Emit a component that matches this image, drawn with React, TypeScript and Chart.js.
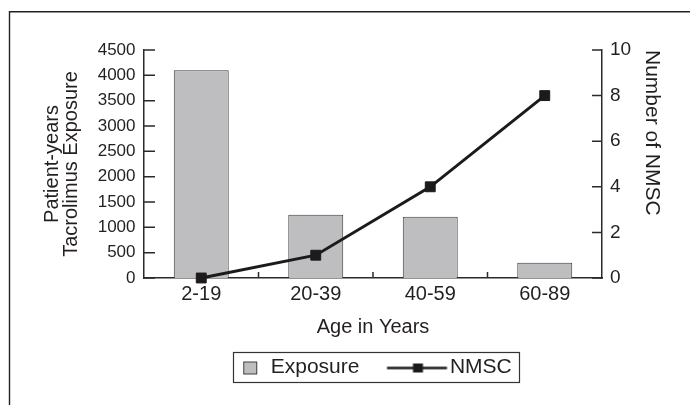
import React, { useEffect, useRef } from 'react';
import { Chart, registerables } from 'chart.js';

Chart.register(...registerables);

// ---- data ----
const categories = ['2-19', '20-39', '40-59', '60-89'];
const exposureValues = [4100, 1250, 1210, 300];
const nmscValues = [0, 1, 4, 8];
const leftTickValues = [0, 500, 1000, 1500, 2000, 2500, 3000, 3500, 4000, 4500];
const rightTickValues = [0, 2, 4, 6, 8, 10];
const seriesNames = ['Exposure', 'NMSC'];
const xTitle = 'Age in Years';
const leftTitle = ['Patient-years', 'Tacrolimus Exposure'];
const rightTitle = 'Number of NMSC';

// ---- style ----
const FONT = "'Liberation Sans', Arial, Helvetica, sans-serif";
const INK = '#231f20';
const AXIS = '#2a2a2a';
const BAR_FILL = '#bebec1';
const BAR_BORDER = '#3c3c3c';
const LINE = '#1c1a1b';
const LEGEND_FONT = 21;
const PSW = 62; // legend point style width

function makeBoxImage(): HTMLCanvasElement {
  const c = document.createElement('canvas');
  c.width = 60;
  c.height = 20;
  const g = c.getContext('2d')!;
  g.fillStyle = BAR_FILL;
  g.fillRect(44.5, 4.5, 13, 12);
  g.strokeStyle = BAR_BORDER;
  g.lineWidth = 1;
  g.strokeRect(44.5, 4.5, 13, 12);
  return c;
}

function makeLineImage(): HTMLCanvasElement {
  const c = document.createElement('canvas');
  c.width = 90;
  c.height = 20;
  const g = c.getContext('2d')!;
  g.strokeStyle = LINE;
  g.lineWidth = 2.5;
  g.beginPath();
  g.moveTo(23.5, 10.5);
  g.lineTo(83.5, 10.5);
  g.stroke();
  g.fillStyle = LINE;
  g.fillRect(49.5, 6, 10, 9);
  return c;
}

const decorPlugin = {
  id: 'decor',
  beforeDraw(chart: any) {
    const { ctx, width, height } = chart;
    ctx.save();
    ctx.fillStyle = '#ffffff';
    ctx.fillRect(0, 0, width, height);
    ctx.strokeStyle = '#222';
    ctx.lineWidth = 1.4;
    ctx.beginPath();
    ctx.moveTo(9.5, height + 2);
    ctx.lineTo(9.5, 11.7);
    ctx.lineTo(width + 2, 11.7);
    ctx.stroke();
    ctx.restore();
  },
  afterDraw(chart: any) {
    const { ctx } = chart;
    const x = chart.scales.x;
    const y = chart.scales.y;
    const y1 = chart.scales.y1;
    ctx.save();
    ctx.strokeStyle = AXIS;
    ctx.lineWidth = 1.5;
    ctx.beginPath();
    y.ticks.forEach((t: any) => {
      const py = y.getPixelForValue(t.value);
      ctx.moveTo(y.right, py);
      ctx.lineTo(y.right + 11, py);
    });
    y1.ticks.forEach((t: any) => {
      const py = y1.getPixelForValue(t.value);
      ctx.moveTo(y1.left - 10, py);
      ctx.lineTo(y1.left, py);
    });
    for (let i = 0; i < categories.length - 1; i++) {
      const px = (x.getPixelForTick(i) + x.getPixelForTick(i + 1)) / 2;
      ctx.moveTo(px, x.top);
      ctx.lineTo(px, x.top - 6);
    }
    ctx.stroke();

    // legend frame
    const hb = chart.legend && chart.legend.legendHitBoxes;
    if (hb && hb.length === 2) {
      const sqLeft = hb[0].left + PSW / 2 - 30 + 44.5;
      const left = sqLeft - 10.5;
      const right = hb[1].left + hb[1].width + 7;
      const top = hb[0].top + LEGEND_FONT / 2 - 15.5;
      ctx.strokeStyle = '#333';
      ctx.lineWidth = 1.2;
      ctx.strokeRect(Math.round(left) + 0.5, Math.round(top) + 0.5, Math.round(right - left), 30);
    }
    ctx.restore();
  },
};

export default function App() {
  const ref = useRef<HTMLCanvasElement | null>(null);

  useEffect(() => {
    if (!ref.current) return;
    const boxImg = makeBoxImage();
    const lineImg = makeLineImage();

    const chart = new Chart(ref.current, {
      type: 'bar',
      data: {
        labels: categories,
        datasets: [
          {
            type: 'bar',
            label: seriesNames[0],
            data: exposureValues,
            yAxisID: 'y',
            backgroundColor: BAR_FILL,
            borderColor: BAR_BORDER,
            borderWidth: 1,
            categoryPercentage: 1,
            barPercentage: 0.48,
            order: 1,
          } as any,
          {
            type: 'line',
            label: seriesNames[1],
            data: nmscValues,
            yAxisID: 'y1',
            borderColor: LINE,
            borderWidth: 3,
            pointStyle: 'rect',
            pointRadius: 7,
            pointBackgroundColor: LINE,
            pointBorderColor: LINE,
            pointBorderWidth: 1,
            tension: 0,
            clip: false,
            order: 0,
          } as any,
        ],
      },
      options: {
        responsive: false,
        animation: false,
        devicePixelRatio: 1,
        events: [],
        layout: { padding: { left: 20, right: 0, top: 50, bottom: 17 } },
        plugins: {
          tooltip: { enabled: false },
          legend: {
            display: true,
            position: 'bottom',
            labels: {
              usePointStyle: true,
              pointStyleWidth: PSW,
              padding: 18,
              color: INK,
              font: { family: FONT, size: LEGEND_FONT },
              generateLabels: () => [
                {
                  text: seriesNames[0],
                  pointStyle: boxImg as any,
                  fillStyle: BAR_FILL,
                  strokeStyle: BAR_BORDER,
                  lineWidth: 0,
                  hidden: false,
                  datasetIndex: 0,
                  fontColor: INK,
                },
                {
                  text: seriesNames[1],
                  pointStyle: lineImg as any,
                  fillStyle: LINE,
                  strokeStyle: LINE,
                  lineWidth: 0,
                  hidden: false,
                  datasetIndex: 1,
                  fontColor: INK,
                },
              ],
            },
          },
        },
        scales: {
          x: {
            type: 'category',
            offset: true,
            grid: { display: false, drawTicks: false },
            border: { display: true, color: AXIS, width: 1.5 },
            ticks: { color: INK, padding: 4, font: { family: FONT, size: 20 } },
            title: {
              display: true,
              text: xTitle,
              color: INK,
              font: { family: FONT, size: 20 },
              padding: { top: 0, bottom: 0 },
            },
            afterFit: (s: any) => {
              s.height = 61;
            },
          },
          y: {
            position: 'left',
            min: 0,
            max: 4500,
            grid: { display: false, drawTicks: false },
            border: { display: true, color: AXIS, width: 1.5 },
            ticks: {
              color: INK,
              padding: 8.5,
              font: { family: FONT, size: 17 },
              callback: (v: any) => String(v),
            },
            afterBuildTicks: (s: any) => {
              s.ticks = leftTickValues.map((v) => ({ value: v }));
            },
            title: {
              display: true,
              text: leftTitle,
              color: INK,
              font: { family: FONT, size: 20, lineHeight: 0.95 },
              padding: { top: 23, bottom: 0 },
            },
            afterFit: (s: any) => {
              s.width = 124;
            },
          },
          y1: {
            position: 'right',
            min: 0,
            max: 10,
            grid: { display: false, drawTicks: false },
            border: { display: true, color: AXIS, width: 1.5 },
            ticks: {
              color: INK,
              padding: 8,
              font: { family: FONT, size: 19 },
              callback: (v: any) => String(v),
            },
            afterBuildTicks: (s: any) => {
              s.ticks = rightTickValues.map((v) => ({ value: v }));
            },
            title: {
              display: true,
              text: rightTitle,
              align: 'end',
              color: INK,
              font: { family: FONT, size: 21 },
              padding: { top: 26, bottom: 0 },
            },
            afterFit: (s: any) => {
              s.width = 88;
            },
          },
        },
      },
      plugins: [decorPlugin],
    } as any);

    return () => chart.destroy();
  }, []);

  return (
    <div style={{ position: 'absolute', left: 0, top: 0, width: 690, height: 405 }}>
      <canvas ref={ref} width={690} height={405} style={{ display: 'block' }} />
    </div>
  );
}
